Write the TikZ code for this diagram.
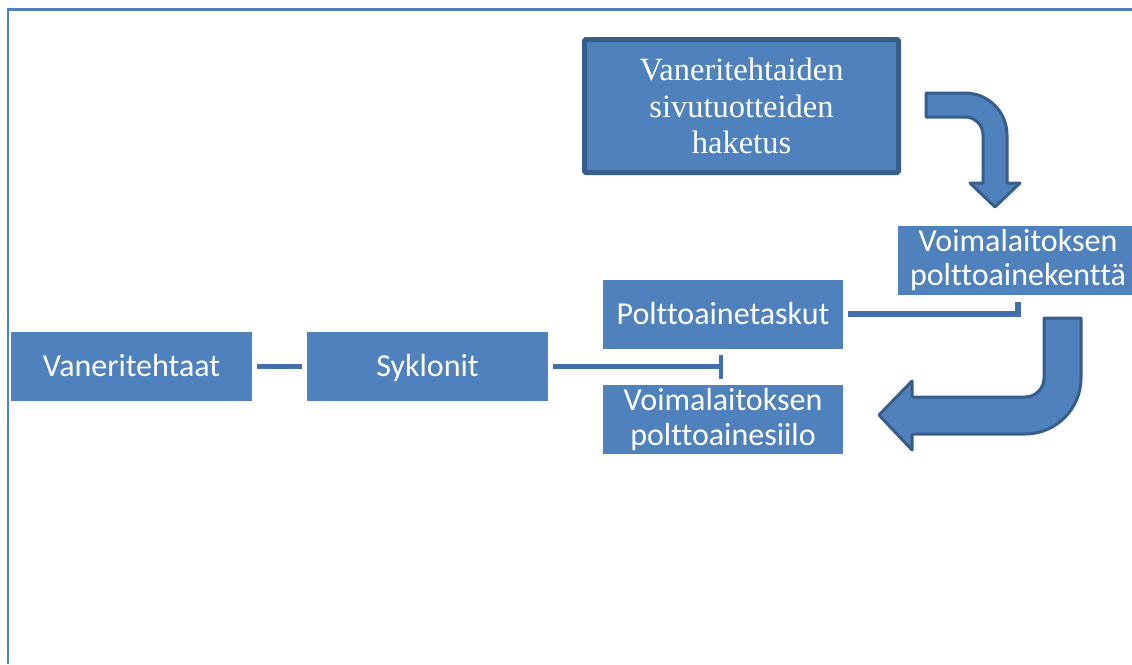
\documentclass[tikz,border=0pt]{standalone}
\usepackage{fontspec}
\setmainfont[Ligatures=NoCommon]{Carlito}
\newfontfamily\serifbox[Ligatures=NoCommon]{Liberation Serif}
\usetikzlibrary{arrows.meta}
\definecolor{fillb}{HTML}{4F81BD}
\definecolor{strokeb}{HTML}{385D8A}
\definecolor{connc}{HTML}{4470AA}
\begin{document}
\begin{tikzpicture}[x=1pt,y=-1pt,
  box/.style={fill=fillb, text=white, minimum width=240pt, minimum height=69pt,
    inner sep=0pt, align=center, font=\fontsize{32}{34.5}\selectfont},
  oneline/.style={text height=20.6pt, text depth=0pt},
  conn/.style={draw=connc, line width=5.5pt},
  bent/.style={fill=fillb, draw=strokeb, line width=3pt, line join=round}]
\useasboundingbox (0,0) rectangle (1132,664);
\fill[white] (0,0) rectangle (1132,664);
% frame
\draw[fillb, line width=2.5pt] (8,664) -- (8,9.5) -- (1132,9.5);
% nodes
\node[box, oneline, minimum width=241pt] (v) at (131.5,366.5) {Vaneritehtaat};
\node[box, oneline, minimum width=241pt] (s) at (427.5,366.5) {Syklonit};
\node[box, oneline] (t) at (723,314) {Polttoainetaskut};
\node[box] (sl) at (723,419.5) {Voimalaitoksen\\polttoainesiilo};
\node[box] (k) at (1018,260) {Voimalaitoksen\\polttoainekenttä};
\node[fill=fillb, draw=strokeb, line width=5pt, rounded corners=1.5pt,
  minimum width=314pt, minimum height=133pt, inner sep=0pt, align=center,
  text=white, font=\serifbox\fontsize{32.5}{36.5}\selectfont] (h) at (741.5,106)
  {Vaneritehtaiden\\sivutuotteiden\\haketus};
% connectors
\draw[conn, shorten <=5pt, shorten >=5pt] (v.east) -- (s.west);
\draw[conn, shorten <=5pt, -{Bar[width=24pt,line width=4.5pt]}] (s.east) -- (s.east -| sl.north);
\draw[conn, line join=miter, shorten <=5pt, shorten >=7pt] (t.east) -| (k.south);
% bent arrows
\draw[bent] (926,93) -- (965,93) arc[start angle=-90,end angle=0,radius=42]
  -- (1007,183) -- (1020,183) -- (995,207) -- (970,183) -- (983,183) -- (983,135)
  arc[start angle=0,end angle=-90,radius=18] -- (926,117) -- cycle;
\draw[bent] (1044,318) -- (1081,318) -- (1081,378) arc[start angle=0,end angle=90,radius=56]
  -- (912,434) -- (912,450) -- (879,415) -- (912,381) -- (912,397) -- (1025,397)
  arc[start angle=90,end angle=0,radius=19] -- cycle;
\end{tikzpicture}
\end{document}
